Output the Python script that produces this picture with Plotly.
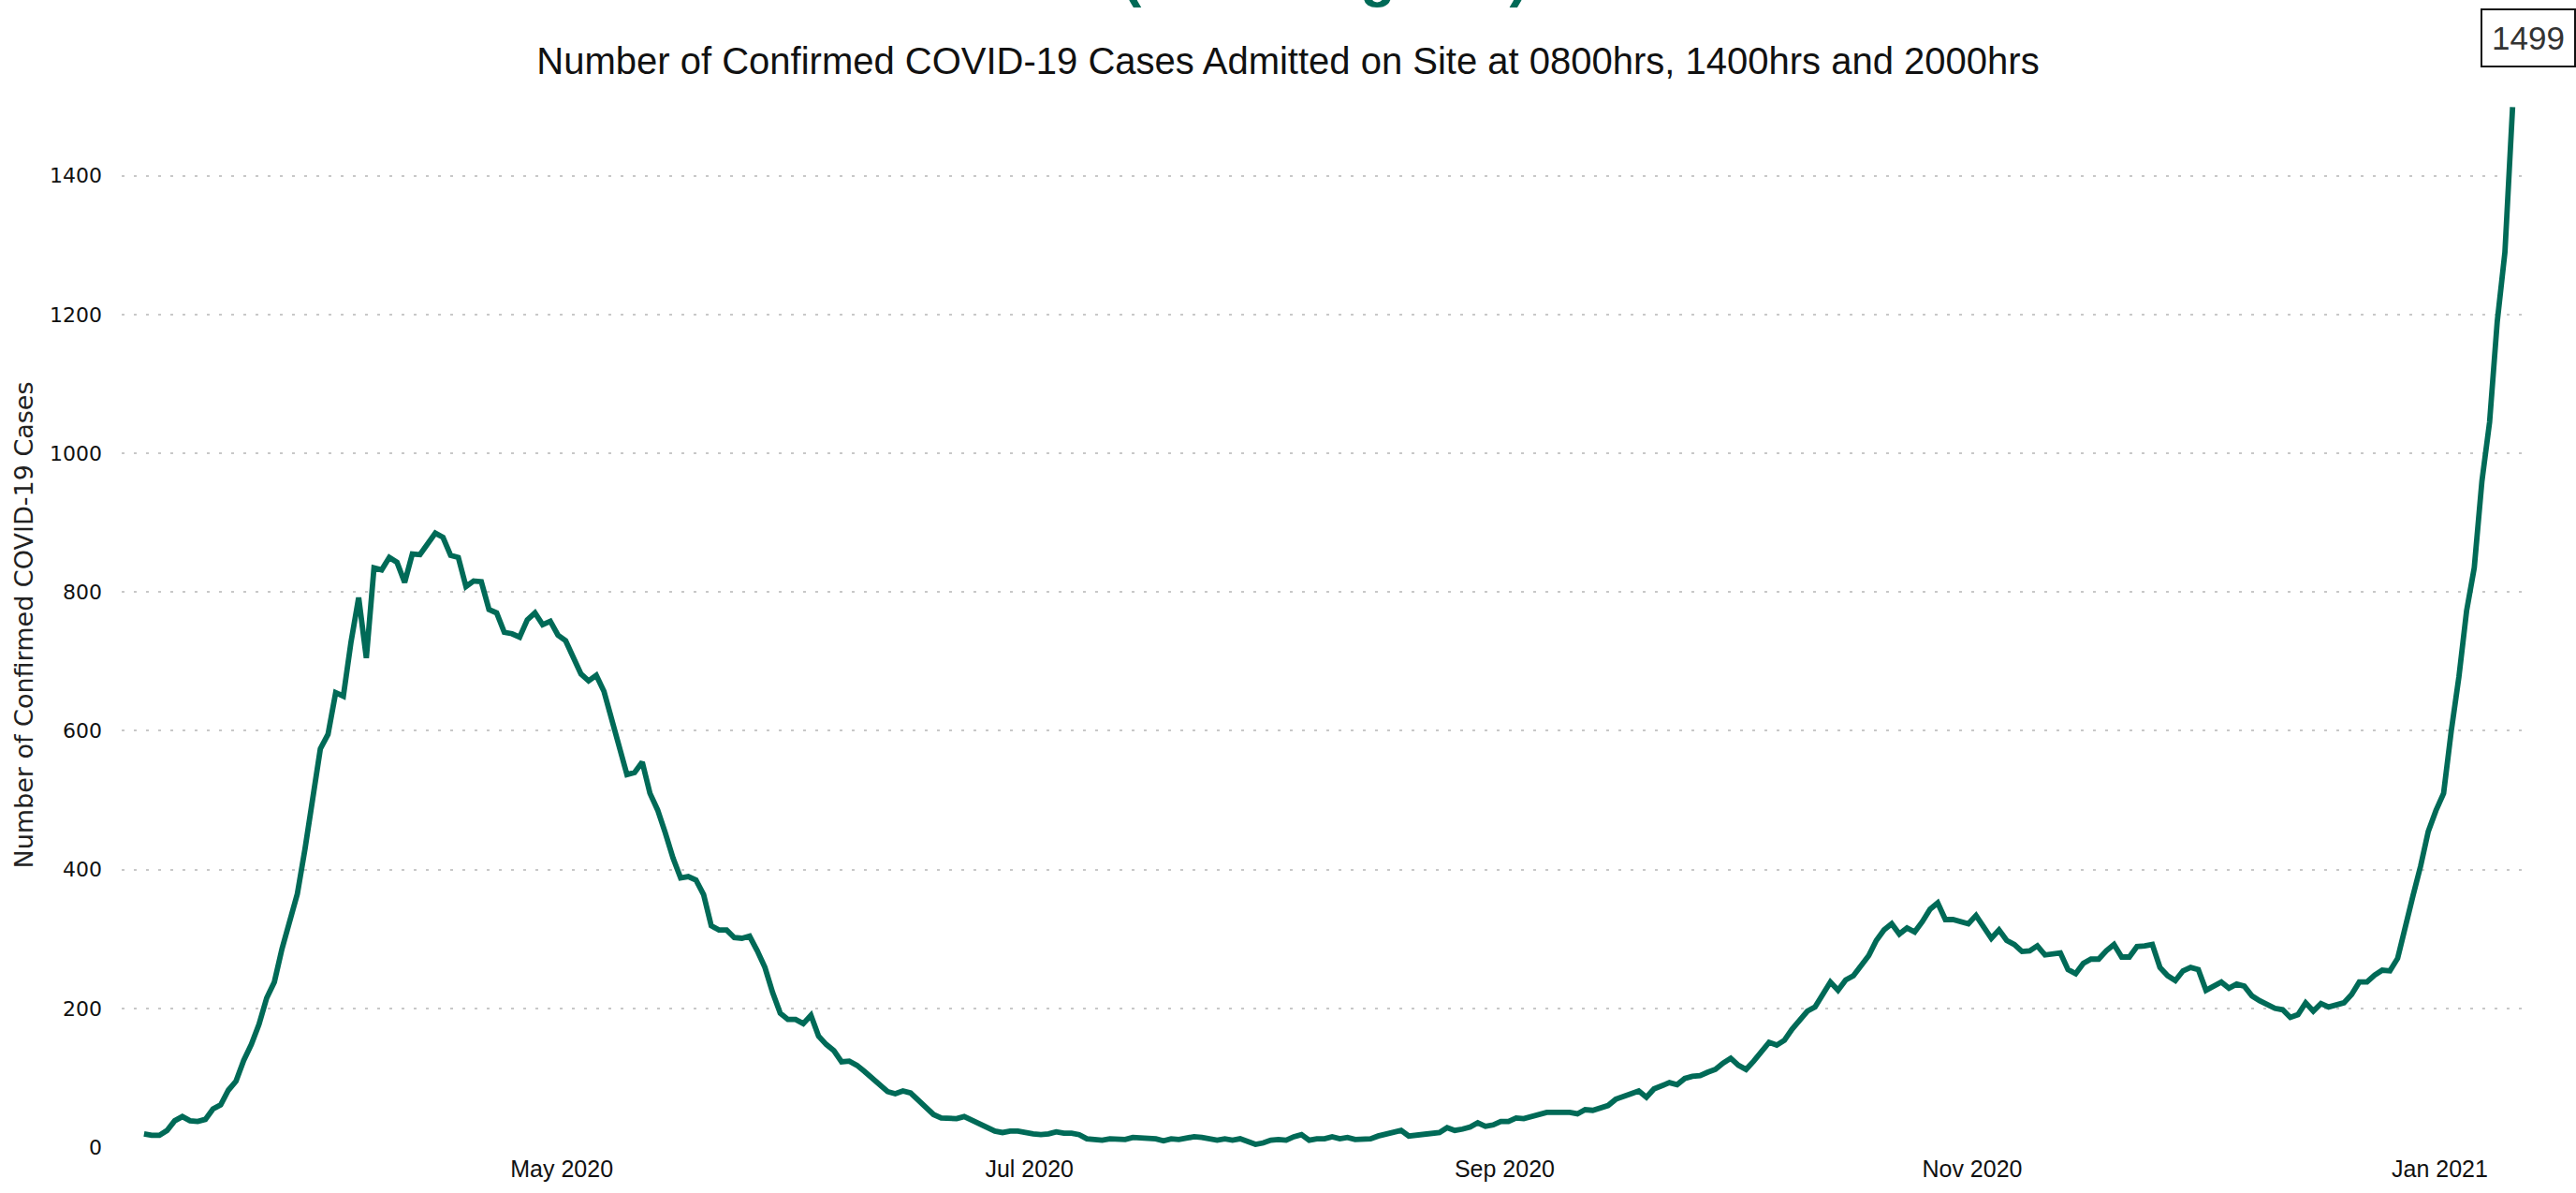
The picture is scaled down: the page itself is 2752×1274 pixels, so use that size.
import pandas as pd
import plotly.graph_objects as go

# ---- data (daily readings) ----
start_date = "2020-03-07 12:00"
cases = [
    19, 17, 17, 24, 38, 44, 38, 37, 40, 55,
    61, 82, 95, 125, 148, 177, 215, 238, 286, 328,
    365, 430, 505, 574, 595, 655, 650, 728, 792, 705,
    835, 832, 850, 843, 814, 855, 854, 868, 885, 879,
    853, 850, 808, 816, 815, 775, 770, 742, 740, 735,
    760, 770, 753, 758, 738, 730, 704, 682, 672,
    680, 657, 615, 576, 537, 540, 555, 510, 486, 453,
    417, 388, 390, 385, 364, 319, 313, 313, 302, 301,
    304, 283, 259, 223, 193, 184, 184, 178, 190, 160,
    148, 139, 123, 124, 118, 109, 100, 89, 80, 77,
    81, 78, 68, 56, 47, 42, 41, 41, 44, 39,
    35, 30, 23, 21, 23, 23, 20, 19, 18, 19,
    22, 20, 20, 18, 12, 11, 10, 12, 12, 11,
    14, 13, 13, 12, 9, 12, 11, 14, 15, 14,
    11, 10, 12, 10, 12, 7, 4, 6, 10, 11,
    10, 15, 18, 10, 12, 12, 15, 12, 14, 11,
    12, 12, 16, 18, 21, 24, 16, 17, 18, 19,
    21, 28, 24, 26, 29, 35, 30, 32, 37, 37,
    42, 41, 44, 49, 50, 50, 50, 50, 48, 54,
    53, 56, 60, 69, 74, 77, 81, 72, 84, 89,
    93, 90, 99, 102, 103, 108, 112, 121, 128, 118,
    112, 124, 139, 151, 147, 154, 170, 184, 196, 202,
    220, 238, 226, 241, 247, 262, 276, 298, 313, 322,
    307, 316, 310, 325, 343, 352, 328, 328, 325, 322,
    334, 319, 301, 313, 298, 292, 282, 283, 290, 277,
    279, 280, 256, 250, 265, 271, 271, 283, 292, 274,
    274, 289, 290, 292, 259, 247, 240, 254, 259, 256,
    226, 232, 238, 229, 235, 232, 218, 211, 206, 200,
    198, 187, 191, 208, 196, 207, 202, 205, 208, 220,
    238, 238, 248, 255, 254, 272, 320, 362, 405, 455,
    485, 510, 600, 678, 773, 835, 960, 1045, 1190, 1290, 1499,
]
dates = pd.date_range(start=start_date, periods=len(cases), freq="D")

y_ticks = [0, 200, 400, 600, 800, 1000, 1200, 1400]
title_text = "Number of Confirmed COVID-19 Cases Admitted on Site at 0800hrs, 1400hrs and 2000hrs"
top_title = "(Including ICU)"
y_title = "Number of Confirmed COVID-19 Cases"

GREEN = "#006a57"

fig = go.Figure()
fig.add_trace(go.Scatter(
    x=dates, y=cases, mode="lines",
    line=dict(color=GREEN, width=5.8),
    hoverinfo="x+y", showlegend=False,
))

# label for the latest value
fig.add_annotation(
    x=dates[-1], y=cases[-1], xref="x", yref="y",
    text=str(cases[-1]), showarrow=False,
    xshift=17, yshift=74,
    font=dict(family="Liberation Sans, Arial, sans-serif", size=35, color="#333333"),
    bordercolor="#111111", borderwidth=2, borderpad=10, bgcolor="white",
)

# green heading, mostly above the top edge of the page
fig.add_annotation(
    x=0.5, y=1.0, xref="paper", yref="paper",
    text="<b>" + top_title + "</b>", showarrow=False,
    yanchor="bottom", yshift=100,
    font=dict(family="Liberation Sans, Arial, sans-serif", size=61, color=GREEN),
)

fig.update_layout(
    width=2752, height=1274,
    paper_bgcolor="white", plot_bgcolor="white",
    margin=dict(l=130, r=50, t=110, b=40),
    title=dict(
        text=title_text, x=0.5, xref="container", xanchor="center",
        y=1 - 65 / 1274, yref="container", yanchor="middle",
        font=dict(family="Liberation Sans, Arial, sans-serif", size=40, color="#111111"),
    ),
    xaxis=dict(
        type="date",
        range=["2020-03-04 14:00", "2021-01-12 16:00"],
        tick0="2020-01-01", dtick="M2", tickformat="%b %Y",
        showgrid=False, zeroline=False, showline=False, ticks="",
        tickfont=dict(family="Liberation Sans, Arial, sans-serif", size=25, color="#111111"),
        ticklabelstandoff=6,
    ),
    yaxis=dict(
        range=[0, 1505],
        tickvals=y_ticks,
        showgrid=True, gridcolor="#c8c8c8", gridwidth=2, griddash="3px,10px",
        zeroline=False, showline=False, ticks="",
        tickfont=dict(family="DejaVu Sans, sans-serif", size=22, color="#111111"),
        ticklabelstandoff=20,
        title=dict(text=y_title, standoff=9,
                   font=dict(family="DejaVu Sans, sans-serif", size=27, color="#222222")),
    ),
)

fig.write_html("out.html", config={"displayModeBar": False},
               post_script="document.body.style.margin='0';")
